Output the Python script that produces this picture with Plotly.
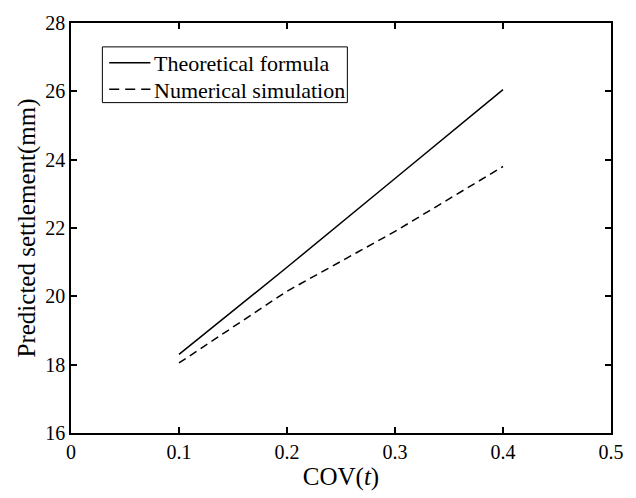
import plotly.graph_objects as go

cov = [0.1, 0.2, 0.3, 0.4]
theoretical = [18.3, 20.85, 23.45, 26.05]
numerical = [18.05, 20.15, 21.9, 23.8]

x_ticks = [0, 0.1, 0.2, 0.3, 0.4, 0.5]
y_ticks = [16, 18, 20, 22, 24, 26, 28]

series_names = ["Theoretical formula", "Numerical simulation"]
series_dash = ["solid", "8px,5px"]

FONT = "Liberation Serif, Times New Roman, serif"

fig = go.Figure()
for name, vals, dash in zip(series_names, [theoretical, numerical], series_dash):
    fig.add_trace(go.Scatter(x=cov, y=vals, mode="lines", name=name, showlegend=False,
                             line=dict(color="black", width=1.5, dash=dash)))

axis_common = dict(showgrid=False, zeroline=False, showline=True, linecolor="black", linewidth=1.5,
                   mirror="ticks", ticks="inside", ticklen=6, tickwidth=1.5, tickcolor="black",
                   tickfont=dict(family=FONT, size=20, color="black"))

fig.update_xaxes(range=[0, 0.5], tickvals=x_ticks, ticktext=[str(v) for v in x_ticks],
                 title=dict(text="COV(<i>t</i>)", font=dict(family=FONT, size=25, color="black"), standoff=6),
                 **axis_common)
fig.update_yaxes(range=[16, 28], tickvals=y_ticks, ticktext=[str(v) for v in y_ticks],
                 title=dict(text="Predicted settlement(mm)", font=dict(family=FONT, size=25, color="black"), standoff=3),
                 **axis_common)

# Custom legend box (MATLAB style, compact)
L, T, PW, PH = 71, 22, 551, 412
def px(x):
    return (x - L) / PW
def py(y):
    return (T + PH - y) / PH

shapes = [dict(type="rect", xref="paper", yref="paper", x0=px(103), x1=px(353), y0=py(102), y1=py(46),
               line=dict(color="black", width=1), fillcolor="white", layer="above")]
annotations = []
rows_y = [62, 88.5]
for name, dash, ry in zip(series_names, series_dash, rows_y):
    shapes.append(dict(type="line", xref="paper", yref="paper", x0=px(110), x1=px(152), y0=py(ry), y1=py(ry),
                       line=dict(color="black", width=1.5, dash=("10px,6px" if dash != "solid" else "solid")),
                       layer="above"))
    annotations.append(dict(text=name, xref="paper", yref="paper", x=px(154), y=py(ry + 1),
                            xanchor="left", yanchor="middle", showarrow=False,
                            font=dict(family=FONT, size=22, color="black")))

fig.update_layout(
    width=636, height=498,
    margin=dict(l=71, r=14, t=22, b=64),
    plot_bgcolor="white", paper_bgcolor="white",
    font=dict(family=FONT, color="black"),
    shapes=shapes, annotations=annotations,
    showlegend=False,
)

fig.write_html("out.html")
